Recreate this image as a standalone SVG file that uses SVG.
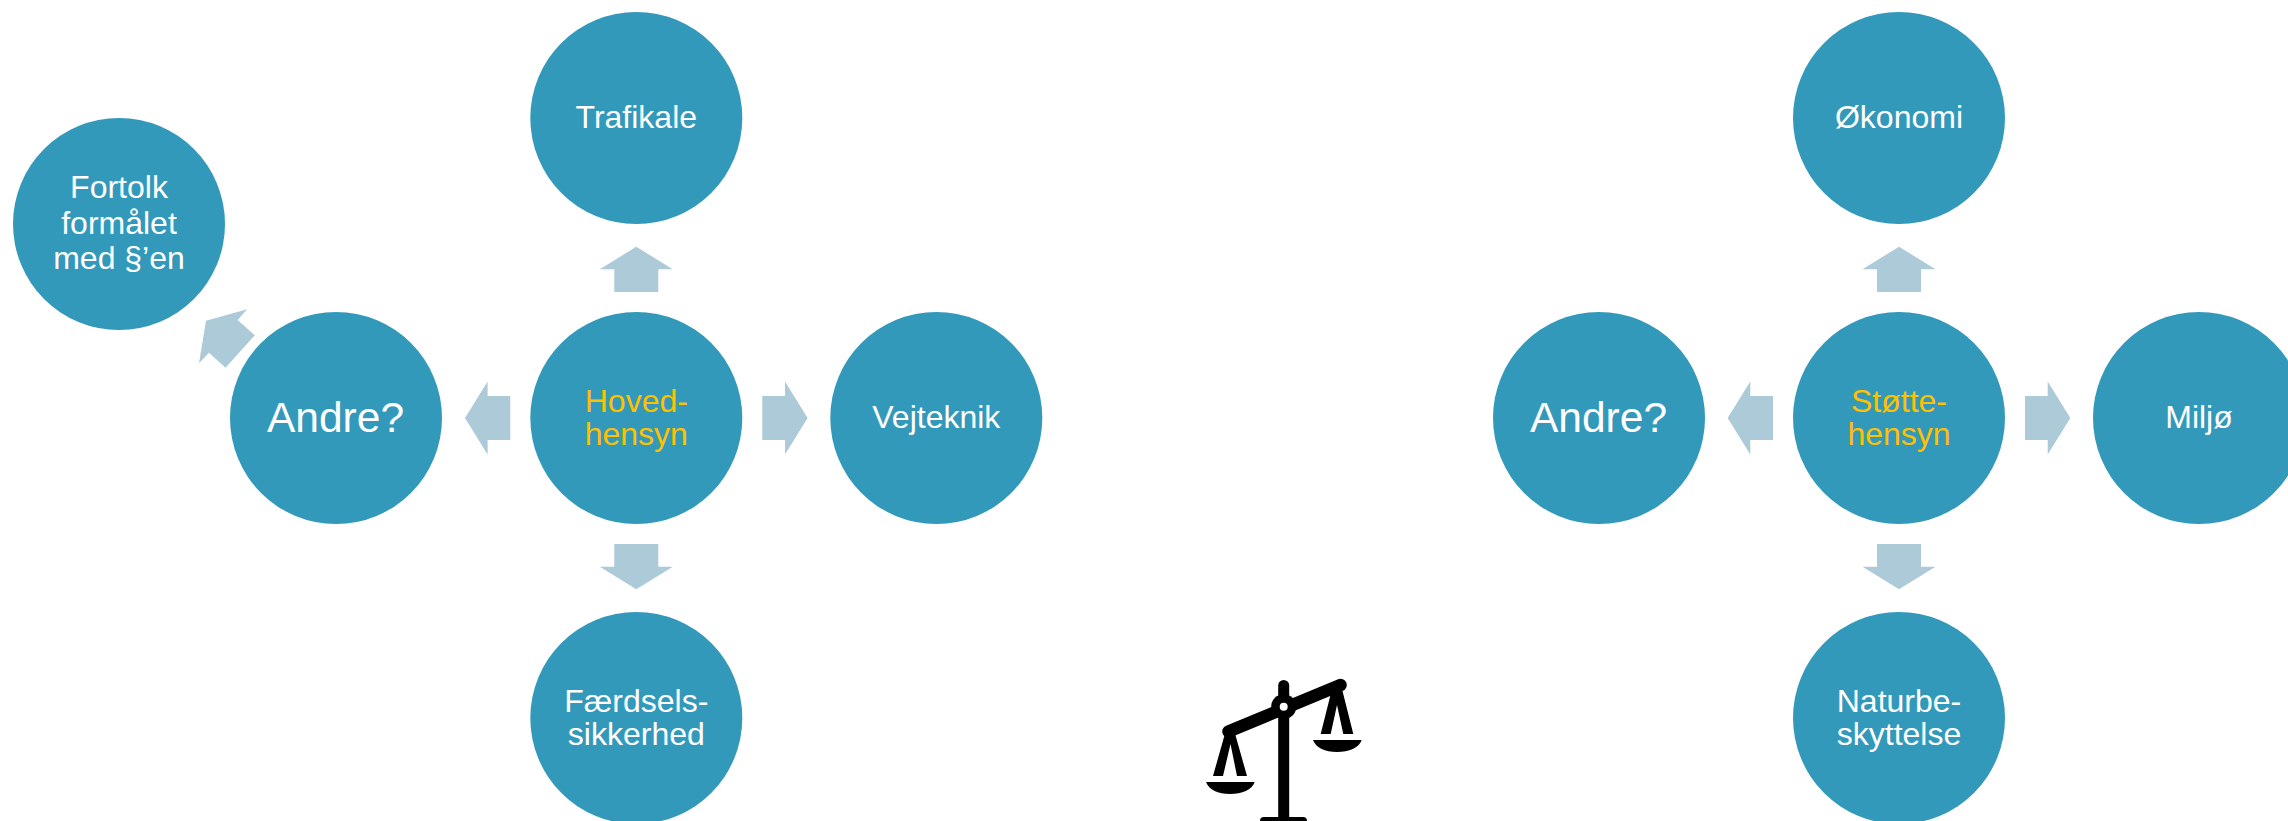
<svg xmlns="http://www.w3.org/2000/svg" width="2288" height="821" viewBox="0 0 2288 821">
<style>
.n{fill:#3399BA}
.a{fill:#ADCAD8}
text{font-family:"Liberation Sans",Arial,sans-serif;font-size:32px;fill:#fff;text-anchor:middle}
.big{font-size:42.500px}
.hub{fill:#FFC000}
.s{stroke:#000;fill:none;stroke-linecap:round}
</style>
<defs>
<circle id="c" r="106" class="n"/>
<path id="up" class="a" d="M0-171.300 36.500-148.700H22V-126H-22V-148.700H-36.500Z"/>
</defs>
<rect width="2288" height="821" fill="#fff"/>
<g id="connectors">
<g transform="translate(636.300 418)">
<use href="#up"/>
<use href="#up" transform="rotate(90)"/>
<use href="#up" transform="rotate(180)"/>
<use href="#up" transform="rotate(270)"/>
</g>
<path class="a" d="M247.200 309.300 206 320.700 199 363.300 209 352.700 225.500 367.700 254.800 335.300 237.600 320Z"/>
<g transform="translate(1899 418)">
<use href="#up"/>
<use href="#up" transform="rotate(90)"/>
<use href="#up" transform="rotate(180)"/>
<use href="#up" transform="rotate(270)"/>
</g>
</g>
<g id="n-trafikale"><use href="#c" x="636.300" y="118"/><text x="636.300" y="128">Trafikale</text></g>
<g id="n-fortolk"><use href="#c" x="119" y="224"/><text x="119" y="198">Fortolk</text><text x="119" y="233.500">formålet</text><text x="119" y="269">med §’en</text></g>
<g id="n-andre1"><use href="#c" x="336" y="418"/><text class="big" x="335.500" y="432">Andre?</text></g>
<g id="n-hoved"><use href="#c" x="636.300" y="418"/><text class="hub" x="636.300" y="412">Hoved-</text><text class="hub" x="636.300" y="445">hensyn</text></g>
<g id="n-vejteknik"><use href="#c" x="936.300" y="418"/><text x="936.300" y="428">Vejteknik</text></g>
<g id="n-faerdsel"><use href="#c" x="636.300" y="718"/><text x="636.300" y="712">Færdsels-</text><text x="636.300" y="745">sikkerhed</text></g>
<g id="n-okonomi"><use href="#c" x="1899" y="118"/><text x="1899" y="128">Økonomi</text></g>
<g id="n-andre2"><use href="#c" x="1599" y="418"/><text class="big" x="1598.500" y="432">Andre?</text></g>
<g id="n-stotte"><use href="#c" x="1899" y="418"/><text class="hub" x="1899" y="412">Støtte-</text><text class="hub" x="1899" y="445">hensyn</text></g>
<g id="n-miljo"><use href="#c" x="2199" y="418"/><text x="2199" y="428">Miljø</text></g>
<g id="n-natur"><use href="#c" x="1899" y="718"/><text x="1899" y="712">Naturbe-</text><text x="1899" y="745">skyttelse</text></g>
<g id="scale">
<path class="s" stroke-width="11" d="M1283.700 685.500V830"/>
<path class="s" stroke-width="12.500" d="M1228.500 731.500 1340.500 685"/>
<path d="M1226 730 1213 776H1223L1230.500 744 1237 776H1247L1234 730ZM1333 685 1320.700 734H1330.700L1337 705 1343.300 734H1353.300L1341 685Z" fill="#000"/>
<circle cx="1283.700" cy="706.700" r="12.500" fill="#000"/>
<circle cx="1283.700" cy="706.700" r="4" fill="#fff"/>
<path d="M1206 782H1254.700C1252 790 1242 794 1230 794S1209 790 1206 782ZM1313 740H1361.700C1359 748 1349 752 1337 752S1316 748 1313 740Z" fill="#000"/>
<rect x="1260" y="817" width="47" height="10" rx="4" fill="#000"/>
</g>
</svg>
